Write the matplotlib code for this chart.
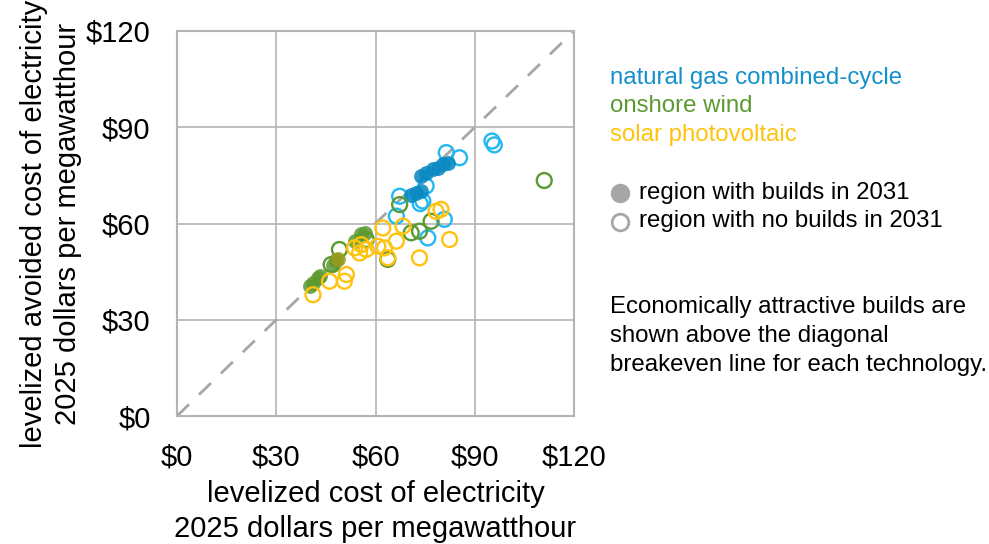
import numpy as np
import matplotlib
matplotlib.use("Agg")
import matplotlib.pyplot as plt
from matplotlib.lines import Line2D

plt.rcParams['font.family'] = ['Liberation Sans', 'DejaVu Sans']

# levelized cost (x) vs levelized avoided cost (y), 2025 $/MWh
gas_built_x = [73.8, 75.3, 77.3, 78.8, 80.3, 81.8, 70.8, 72.3, 73.8]
gas_built_y = [74.8, 75.8, 76.9, 77.4, 78.4, 79.0, 68.8, 69.4, 70.1]
gas_none_x = [95.2, 95.9, 81.4, 85.4, 67.3, 74.3, 75.3, 66.3, 80.8, 75.8, 73.5]
gas_none_y = [85.7, 84.5, 82.1, 80.5, 68.5, 67.0, 71.7, 62.3, 61.3, 55.5, 66.2]

wind_built_x = [40.1, 41.1, 42.6, 43.1, 47.1, 48.1, 55.7, 56.7, 53.7]
wind_built_y = [40.4, 41.5, 43.0, 43.5, 47.2, 48.5, 56.6, 57.1, 54.5]
wind_none_x = [49.1, 111.0, 67.3, 76.8, 70.8, 73.3, 63.7, 46.6, 57.2]
wind_none_y = [51.9, 73.4, 65.9, 60.7, 57.1, 57.6, 48.8, 47.2, 55.0]

solar_built_x = [48.6]
solar_built_y = [48.9]
solar_none_x = [62.2, 68.3, 66.3, 78.3, 79.8, 82.4, 73.3, 63.7, 62.7, 60.7,
                53.7, 55.2, 57.2, 55.7, 51.2, 50.6, 46.1, 41.1]
solar_none_y = [58.6, 59.2, 54.5, 63.8, 64.4, 55.0, 49.3, 49.3, 52.4, 52.9,
                52.4, 50.8, 51.9, 53.4, 44.1, 42.0, 42.0, 37.8]

ticks = [0, 30, 60, 90, 120]
tick_labels = ["$0", "$30", "$60", "$90", "$120"]

GAS_OPEN, GAS_FILL, GAS_TXT = "#22B8F0", "#0A8AC2", "#1390CB"
WIND = "#5B9A32"
SOLAR = "#FFC20E"
GRID = "#B4B4B4"
FS = 21
FS_SIDE = 17.3

fig = plt.figure(figsize=(9.89, 5.44), dpi=100)
ax = fig.add_axes([177 / 989, 128 / 544, 397 / 989, 385 / 544])

ax.plot([0, 120], [0, 120], color="#A6A6A6", lw=2, dashes=(6, 5), zorder=1)

ms = 115
lw = 1.7
ax.scatter(gas_none_x, gas_none_y, s=ms, facecolors="none", edgecolors=GAS_OPEN, linewidths=lw, zorder=3)
ax.scatter(gas_built_x, gas_built_y, s=ms, color=GAS_FILL, alpha=0.88, linewidths=0, zorder=3)
ax.scatter(wind_none_x, wind_none_y, s=ms, facecolors="none", edgecolors=WIND, linewidths=lw, zorder=3)
ax.scatter(wind_built_x, wind_built_y, s=ms, color=WIND, alpha=0.85, linewidths=0, zorder=3)
ax.scatter(solar_none_x, solar_none_y, s=ms, facecolors="none", edgecolors=SOLAR, linewidths=lw, zorder=3)
ax.scatter(solar_built_x, solar_built_y, s=ms, color="#9C9A1A", alpha=0.85, linewidths=0, zorder=4)

ax.set_xlim(0, 120)
ax.set_ylim(0, 120)
ax.set_xticks(ticks)
ax.set_xticklabels(tick_labels)
ax.set_yticks(ticks)
ax.set_yticklabels(tick_labels)
ax.tick_params(length=0, labelsize=FS)
ax.tick_params(axis="x", pad=20)
ax.tick_params(axis="y", pad=19)
ax.grid(color=GRID, lw=1.2)
ax.set_axisbelow(True)
for sp in ax.spines.values():
    sp.set_color(GRID)
    sp.set_linewidth(1.5)

ax.set_xlabel("levelized cost of electricity\n2025 dollars per megawatthour",
              fontsize=FS, linespacing=1.3, labelpad=6)
ax.set_ylabel("levelized avoided cost of electricity\n2025 dollars per megawatthour",
              fontsize=FS, linespacing=1.25, labelpad=3)

# right-hand annotations
tx = 610 / 989
def fy(py):
    return 1 - py / 544

fig.text(tx, fy(78), "natural gas combined-cycle", color=GAS_TXT, fontsize=FS_SIDE, va="center")
fig.text(tx, fy(106), "onshore wind", color=WIND, fontsize=FS_SIDE, va="center")
fig.text(tx, fy(135), "solar photovoltaic", color=SOLAR, fontsize=FS_SIDE, va="center")

fig.add_artist(Line2D([620 / 989], [fy(193)], marker="o", markersize=13,
                      color="#A6A6A6", transform=fig.transFigure))
fig.add_artist(Line2D([620 / 989], [fy(222)], marker="o", markersize=12,
                      markerfacecolor="white", markeredgecolor="#A6A6A6",
                      markeredgewidth=2, transform=fig.transFigure))
fig.text(639 / 989, fy(193), "region with builds in 2031", fontsize=FS_SIDE, va="center")
fig.text(639 / 989, fy(221), "region with no builds in 2031", fontsize=FS_SIDE, va="center")

fig.text(tx, fy(336), "Economically attractive builds are\nshown above the diagonal\n"
         "breakeven line for each technology.", fontsize=FS_SIDE, va="center", linespacing=1.42)

fig.savefig("out.png", dpi=100)
